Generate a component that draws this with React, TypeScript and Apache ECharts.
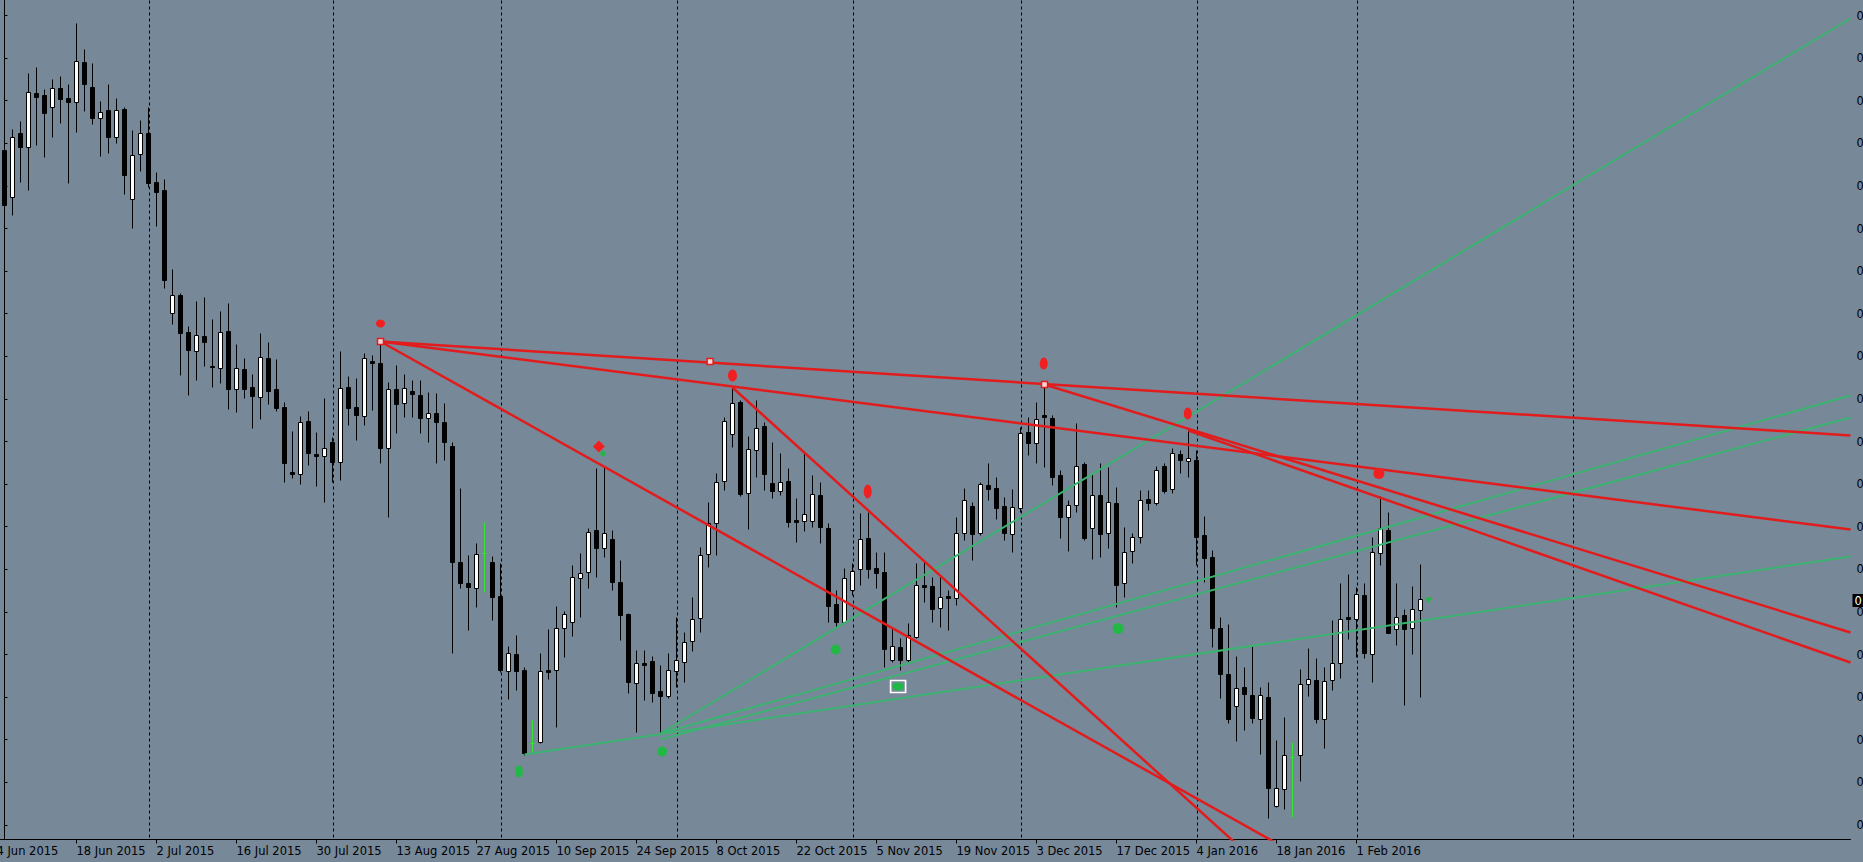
import React, { useEffect, useRef } from "react";
import * as echarts from "echarts";

// ---------- data ----------
// bar -1 = 4 Jun 2015 (only a time label), bars 0..177 = 5 Jun 2015 .. 11 Feb 2016 (daily)
const firstLabelDate = [2015, 5, 4];
const lastBarDate = [2016, 1, 11];
const holidays = ["2015-12-25", "2016-01-01"];
const separatorDates = ["2015-07-01", "2015-08-03", "2015-09-01", "2015-10-01", "2015-11-02", "2015-12-01", "2016-01-04", "2016-02-01", "2016-03-01"];
const monthNames = ["Jan", "Feb", "Mar", "Apr", "May", "Jun", "Jul", "Aug", "Sep", "Oct", "Nov", "Dec"];

const opens = [
  0.7850, 0.7803, 0.7867, 0.7853, 0.7907, 0.7905, 0.7893, 0.7912, 0.7902, 0.7898,
  0.7938, 0.7913, 0.7882, 0.7890, 0.7863, 0.7891, 0.7801, 0.7846, 0.7867, 0.7818,
  0.7810, 0.7687, 0.7705, 0.7668, 0.7649, 0.7664, 0.7634, 0.7632, 0.7669, 0.7611,
  0.7631, 0.7613, 0.7603, 0.7642, 0.7611, 0.7593, 0.7528, 0.7526, 0.7579, 0.7546,
  0.7544, 0.7558, 0.7538, 0.7613, 0.7593, 0.7584, 0.7639, 0.7637, 0.7552, 0.7611,
  0.7597, 0.7609, 0.7605, 0.7582, 0.7587, 0.7578, 0.7554, 0.7438, 0.7417, 0.7412,
  0.7447, 0.7438, 0.7404, 0.7329, 0.7346, 0.7330, 0.7257, 0.7258, 0.7330, 0.7330,
  0.7372, 0.7378, 0.7422, 0.7428, 0.7470, 0.7452, 0.7461, 0.7418, 0.7386, 0.7317,
  0.7337, 0.7339, 0.7309, 0.7304, 0.7329, 0.7338, 0.7359, 0.7382, 0.7446, 0.7477,
  0.7519, 0.7566, 0.7598, 0.7507, 0.7550, 0.7574, 0.7517, 0.7509, 0.7519, 0.7480,
  0.7479, 0.7479, 0.7505, 0.7472, 0.7396, 0.7378, 0.7410, 0.7431, 0.7462, 0.7432,
  0.7428, 0.7340, 0.7353, 0.7340, 0.7363, 0.7415, 0.7414, 0.7392, 0.7404, 0.7402,
  0.7467, 0.7494, 0.7467, 0.7515, 0.7512, 0.7494, 0.7466, 0.7492, 0.7568, 0.7557,
  0.7585, 0.7582, 0.7525, 0.7483, 0.7495, 0.7536, 0.7472, 0.7505, 0.7467, 0.7497,
  0.7417, 0.7449, 0.7463, 0.7501, 0.7497, 0.7534, 0.7511, 0.7546, 0.7539, 0.7540,
  0.7465, 0.7443, 0.7372, 0.7326, 0.7294, 0.7313, 0.7305, 0.7281, 0.7303, 0.7194,
  0.7211, 0.7243, 0.7245, 0.7316, 0.7320, 0.7281, 0.7320, 0.7337, 0.7383, 0.7381,
  0.7405, 0.7346, 0.7447, 0.7470, 0.7371, 0.7385, 0.7372, 0.7390,
];
const highs = [
  0.7889, 0.7871, 0.7879, 0.7927, 0.7933, 0.7911, 0.7921, 0.7924, 0.7916, 0.7977,
  0.7951, 0.7937, 0.7899, 0.7916, 0.7902, 0.7893, 0.7870, 0.7880, 0.7893, 0.7828,
  0.7821, 0.7731, 0.7707, 0.7674, 0.7699, 0.7703, 0.7681, 0.7689, 0.7697, 0.7656,
  0.7642, 0.7626, 0.7667, 0.7658, 0.7641, 0.7598, 0.7569, 0.7584, 0.7589, 0.7568,
  0.7602, 0.7563, 0.7649, 0.7624, 0.7622, 0.7647, 0.7645, 0.7659, 0.7618, 0.7635,
  0.7626, 0.7620, 0.7620, 0.7608, 0.7607, 0.7597, 0.7558, 0.7512, 0.7445, 0.7457,
  0.7478, 0.7444, 0.7437, 0.7354, 0.7365, 0.7333, 0.7280, 0.7347, 0.7371, 0.7394,
  0.7389, 0.7435, 0.7447, 0.7472, 0.7532, 0.7533, 0.7470, 0.7440, 0.7387, 0.7350,
  0.7350, 0.7344, 0.7335, 0.7347, 0.7383, 0.7368, 0.7403, 0.7453, 0.7498, 0.7527,
  0.7583, 0.7613, 0.7600, 0.7564, 0.7600, 0.7578, 0.7558, 0.7547, 0.7532, 0.7502,
  0.7547, 0.7525, 0.7518, 0.7477, 0.7410, 0.7432, 0.7437, 0.7487, 0.7488, 0.7448,
  0.7448, 0.7372, 0.7362, 0.7377, 0.7437, 0.7440, 0.7423, 0.7423, 0.7410, 0.7483,
  0.7512, 0.7498, 0.7518, 0.7537, 0.7523, 0.7503, 0.7511, 0.7573, 0.7583, 0.7598,
  0.7615, 0.7585, 0.7530, 0.7500, 0.7577, 0.7538, 0.7527, 0.7537, 0.7533, 0.7513,
  0.7473, 0.7467, 0.7510, 0.7510, 0.7534, 0.7537, 0.7552, 0.7550, 0.7570, 0.7550,
  0.7484, 0.7450, 0.7383, 0.7376, 0.7344, 0.7333, 0.7354, 0.7313, 0.7318, 0.7260,
  0.7283, 0.7258, 0.7331, 0.7352, 0.7342, 0.7333, 0.7380, 0.7417, 0.7426, 0.7413,
  0.7417, 0.7463, 0.7504, 0.7488, 0.7417, 0.7391, 0.7414, 0.7436,
];
const lows = [
  0.7781, 0.7785, 0.7818, 0.7810, 0.7855, 0.7843, 0.7863, 0.7877, 0.7817, 0.7868,
  0.7889, 0.7876, 0.7844, 0.7847, 0.7857, 0.7806, 0.7772, 0.7829, 0.7813, 0.7774,
  0.7712, 0.7676, 0.7625, 0.7605, 0.7620, 0.7634, 0.7613, 0.7617, 0.7591, 0.7588,
  0.7602, 0.7572, 0.7581, 0.7596, 0.7589, 0.7518, 0.7522, 0.7516, 0.7535, 0.7514,
  0.7498, 0.7518, 0.7520, 0.7575, 0.7560, 0.7575, 0.7590, 0.7537, 0.7483, 0.7567,
  0.7583, 0.7583, 0.7567, 0.7558, 0.7537, 0.7540, 0.7347, 0.7412, 0.7370, 0.7393,
  0.7408, 0.7380, 0.7328, 0.7301, 0.7310, 0.7245, 0.7248, 0.7257, 0.7321, 0.7273,
  0.7343, 0.7364, 0.7383, 0.7412, 0.7423, 0.7443, 0.7410, 0.7360, 0.7307, 0.7268,
  0.7300, 0.7298, 0.7267, 0.7302, 0.7313, 0.7318, 0.7349, 0.7368, 0.7433, 0.7445,
  0.7510, 0.7553, 0.7504, 0.7471, 0.7523, 0.7510, 0.7502, 0.7505, 0.7473, 0.7458,
  0.7469, 0.7473, 0.7457, 0.7378, 0.7372, 0.7377, 0.7405, 0.7415, 0.7422, 0.7412,
  0.7333, 0.7338, 0.7330, 0.7338, 0.7362, 0.7398, 0.7378, 0.7373, 0.7370, 0.7395,
  0.7460, 0.7440, 0.7465, 0.7500, 0.7481, 0.7460, 0.7448, 0.7488, 0.7545, 0.7537,
  0.7533, 0.7515, 0.7462, 0.7449, 0.7488, 0.7460, 0.7441, 0.7443, 0.7452, 0.7393,
  0.7403, 0.7437, 0.7457, 0.7490, 0.7495, 0.7507, 0.7507, 0.7527, 0.7523, 0.7435,
  0.7418, 0.7353, 0.7302, 0.7277, 0.7259, 0.7270, 0.7277, 0.7246, 0.7182, 0.7193,
  0.7191, 0.7183, 0.7219, 0.7304, 0.7277, 0.7252, 0.7310, 0.7322, 0.7361, 0.7343,
  0.7342, 0.7318, 0.7435, 0.7367, 0.7355, 0.7295, 0.7346, 0.7303,
];
const closes = [
  0.7795, 0.7863, 0.7853, 0.7908, 0.7903, 0.7887, 0.7912, 0.7901, 0.7898, 0.7939,
  0.7916, 0.7882, 0.7888, 0.7863, 0.7890, 0.7825, 0.7845, 0.7867, 0.7817, 0.7808,
  0.7720, 0.7705, 0.7667, 0.7650, 0.7665, 0.7658, 0.7633, 0.7668, 0.7611, 0.7632,
  0.7611, 0.7604, 0.7643, 0.7609, 0.7592, 0.7537, 0.7526, 0.7578, 0.7547, 0.7544,
  0.7552, 0.7538, 0.7612, 0.7592, 0.7585, 0.7642, 0.7637, 0.7552, 0.7611, 0.7596,
  0.7612, 0.7606, 0.7582, 0.7587, 0.7578, 0.7558, 0.7438, 0.7417, 0.7413, 0.7446,
  0.7447, 0.7403, 0.7330, 0.7347, 0.7329, 0.7247, 0.7257, 0.7329, 0.7328, 0.7372,
  0.7386, 0.7423, 0.7427, 0.7468, 0.7452, 0.7467, 0.7418, 0.7385, 0.7318, 0.7337,
  0.7335, 0.7307, 0.7304, 0.7330, 0.7340, 0.7358, 0.7381, 0.7445, 0.7477, 0.7518,
  0.7579, 0.7597, 0.7506, 0.7551, 0.7572, 0.7526, 0.7509, 0.7518, 0.7478, 0.7478,
  0.7486, 0.7506, 0.7473, 0.7394, 0.7378, 0.7422, 0.7429, 0.7461, 0.7431, 0.7427,
  0.7351, 0.7354, 0.7340, 0.7365, 0.7415, 0.7413, 0.7391, 0.7403, 0.7402, 0.7467,
  0.7500, 0.7466, 0.7516, 0.7511, 0.7492, 0.7467, 0.7493, 0.7567, 0.7557, 0.7581,
  0.7583, 0.7523, 0.7483, 0.7495, 0.7534, 0.7462, 0.7505, 0.7466, 0.7498, 0.7415,
  0.7448, 0.7463, 0.7500, 0.7497, 0.7530, 0.7509, 0.7547, 0.7540, 0.7542, 0.7463,
  0.7442, 0.7372, 0.7326, 0.7281, 0.7312, 0.7306, 0.7282, 0.7305, 0.7212, 0.7212,
  0.7245, 0.7243, 0.7316, 0.7321, 0.7281, 0.7319, 0.7337, 0.7381, 0.7381, 0.7406,
  0.7347, 0.7448, 0.7472, 0.7367, 0.7383, 0.7371, 0.7391, 0.7401,
];

// price scale ticks (right axis)
const priceTicks = [
  0.7985, 0.79424, 0.78998, 0.78572, 0.78146, 0.7772, 0.77294, 0.76868, 0.76442, 0.76016,
  0.7559, 0.75164, 0.74738, 0.74312, 0.73886, 0.7346, 0.73034, 0.72608, 0.72182, 0.71756,
];

// trend lines: [bar, price] -> [bar, price]
const redTrendLines = [
  [[47, 0.7659], [230.75, 0.7565]],
  [[47, 0.7659], [230.75, 0.7471]],
  [[47, 0.7659], [170, 0.7108]],
  [[91, 0.7613], [160, 0.7113]],
  [[130, 0.7616], [230.75, 0.7368]],
  [[148, 0.757], [230.75, 0.7338]],
];
const greenTrendLines = [
  [[65, 0.7246], [230.75, 0.7444]],
  [[82, 0.7267], [230.75, 0.7982]],
  [[82, 0.7267], [230.75, 0.7605]],
  [[82, 0.7261], [230.75, 0.7583]],
];
const anchorPoints = [[47, 0.7659], [88.2, 0.7639], [130, 0.7616]];
const redSignals = [[47, 0.7677], [74.3, 0.7554], [91, 0.7625], [107.9, 0.7509], [129.9, 0.7637], [147.9, 0.7587], [171.8, 0.7527]];
const redSignalSizes = [[9, 8], [12, 12], [9, 12], [8, 14], [8, 12], [8, 12], [11, 11]];
const greenSignals = [[64.3, 0.7229], [82.2, 0.7249], [103.9, 0.7351], [111.7, 0.7314], [139.2, 0.7372], [74.8, 0.7547]];
const greenSignalSizes = [[8, 12], [10, 10], [10, 10], [12, 8], [11, 11], [5, 6]];
const selectedSignal = [[111.7, 0.7314]];
const arrowSignal = [[178, 0.74]];

// ---------- helpers ----------
function isoOf(d: Date) {
  return d.toISOString().slice(0, 10);
}
function buildDates(count: number): Date[] {
  const out: Date[] = [];
  let t = Date.UTC(firstLabelDate[0], firstLabelDate[1], firstLabelDate[2]);
  const last = Date.UTC(lastBarDate[0], lastBarDate[1], lastBarDate[2]);
  while (out.length < count) {
    const d = new Date(t);
    const wd = d.getUTCDay();
    if (t > last || (wd !== 0 && wd !== 6 && !holidays.includes(isoOf(d)))) out.push(d);
    t += 86400000;
  }
  return out;
}

export default function App() {
  const ref = useRef<HTMLDivElement>(null);
  useEffect(() => {
    if (!ref.current) return;
    const chart = echarts.init(ref.current, undefined, { renderer: "svg" });
    const dates = buildDates(240); // dates[i] is bar i-1
    const dateOfBar = (k: number) => dates[k + 1];
    const barOfIso = (iso: string) => dates.findIndex((d) => isoOf(d) === iso) - 1;
    const fmt = (d: Date) => `${d.getUTCDate()} ${monthNames[d.getUTCMonth()]} ${d.getUTCFullYear()}`;

    const labelBars: number[] = [];
    for (let k = -1; k < closes.length; k += 10) labelBars.push(k);
    const separators = separatorDates.map((s) => [barOfIso(s), 0.75]);

    const normal: number[][] = [];
    const doji: number[][] = [];
    closes.forEach((c, k) => {
      const row = [k, opens[k], c, lows[k], highs[k]];
      if (opens[k] === c) doji.push(row);
      else normal.push(row);
    });
    const lastClose = closes[closes.length - 1];
    const font = "DejaVu Sans";
    const red = "#e21c1c";
    const green = "#3cb371";

    const lineSeries = (lines: number[][][], color: string, width: number) =>
      lines.map((pts) => ({
        type: "line",
        data: pts,
        symbol: "none",
        z: 5,
        silent: true,
        clip: true,
        lineStyle: { color, width },
      }));

    chart.setOption({
      animation: false,
      backgroundColor: "#778899",
      textStyle: { fontFamily: font },
      grid: { left: -12, right: 12.5, top: 0.5, bottom: 22.5, containLabel: false, outerBoundsMode: "none" },
      xAxis: {
        type: "value",
        min: -2.0625,
        max: 230.75,
        axisLine: { show: true, lineStyle: { color: "#000", width: 1 } },
        axisTick: { show: true, length: 4, customValues: labelBars, lineStyle: { color: "#000" } },
        axisLabel: {
          show: true,
          customValues: labelBars,
          formatter: (v: number) => fmt(dateOfBar(Math.round(v))),
          align: "left",
          margin: 5,
          color: "#000",
          fontFamily: font,
          fontSize: 11.5,
        },
        splitLine: { show: false },
      },
      yAxis: {
        type: "value",
        position: "right",
        min: 0.7161,
        max: 0.8,
        axisLine: { show: true, lineStyle: { color: "#000", width: 1 } },
        axisTick: { show: true, inside: false, length: 3, customValues: priceTicks, lineStyle: { color: "#000" } },
        axisLabel: {
          show: true,
          customValues: priceTicks,
          formatter: (v: number) => v.toFixed(5),
          margin: 6,
          color: "#000",
          fontFamily: font,
          fontSize: 11.5,
        },
        splitLine: { show: false },
      },
      series: [
        {
          type: "custom",
          data: separators,
          encode: { x: 0, y: 1 },
          z: 1,
          silent: true,
          renderItem: (params: any, api: any) => {
            const x = Math.round(api.coord([api.value(0), 0.75])[0]) + 0.5;
            const cs = params.coordSys;
            return {
              type: "line",
              shape: { x1: x, y1: cs.y, x2: x, y2: cs.y + cs.height },
              style: { stroke: "#000", lineWidth: 1, lineDash: [3, 3] },
            };
          },
        },
        {
          type: "candlestick",
          data: normal,
          encode: { x: 0, y: [1, 2, 3, 4] },
          barWidth: 4,
          z: 3,
          silent: true,
          itemStyle: { color: "#ffffff", color0: "#000000", borderColor: "#000000", borderColor0: "#000000", borderWidth: 1 },
          markLine: {
            silent: true,
            symbol: "none",
            animation: false,
            lineStyle: { color: "rgba(0,0,0,0)", width: 0, opacity: 1 },
            label: {
              show: true,
              position: "end",
              distance: 2,
              opacity: 1,
              formatter: () => lastClose.toFixed(5),
              color: "#ffffff",
              backgroundColor: "#000000",
              padding: [1, 2, 0, 2],
              fontFamily: font,
              fontSize: 11.5,
            },
            data: [{ yAxis: lastClose }],
          },
        },
        {
          type: "candlestick",
          data: doji,
          encode: { x: 0, y: [1, 2, 3, 4] },
          barWidth: 4,
          z: 3,
          silent: true,
          itemStyle: { color: "#33e633", color0: "#33e633", borderColor: "#33e633", borderColor0: "#33e633", borderColorDoji: "#33e633", borderWidth: 1 },
        },
        ...lineSeries(greenTrendLines, green, 2),
        ...lineSeries(redTrendLines, red, 2.5),
        {
          type: "scatter",
          data: selectedSignal,
          symbol: "rect",
          symbolSize: [15, 12],
          z: 6,
          silent: true,
          itemStyle: { color: "rgba(0,0,0,0)", borderColor: "#ffffff", borderWidth: 1.5, opacity: 1 },
        },
        {
          type: "scatter",
          data: greenSignals.map((p, i) => ({ value: p, symbolSize: greenSignalSizes[i] })),
          symbol: "circle",
          z: 7,
          silent: true,
          itemStyle: { color: "#22b845", opacity: 1 },
        },
        {
          type: "scatter",
          data: arrowSignal,
          symbol: "triangle",
          symbolRotate: 180,
          symbolSize: [7, 6],
          z: 7,
          silent: true,
          itemStyle: { color: "#22b845", opacity: 1 },
        },
        {
          type: "scatter",
          data: redSignals.map((p, i) => ({ value: p, symbolSize: redSignalSizes[i], symbol: i === 1 ? "diamond" : "circle" })),
          z: 7,
          silent: true,
          itemStyle: { color: "#f02020", opacity: 1 },
        },
        {
          type: "scatter",
          data: anchorPoints,
          symbol: "rect",
          symbolSize: 6,
          z: 8,
          silent: true,
          itemStyle: { color: "#f3d6d6", borderColor: red, borderWidth: 1.5, opacity: 1 },
        },
      ],
    });
    return () => chart.dispose();
  }, []);
  return <div ref={ref} style={{ position: "fixed", left: 0, top: 0, width: 1863, height: 862 }} />;
}
